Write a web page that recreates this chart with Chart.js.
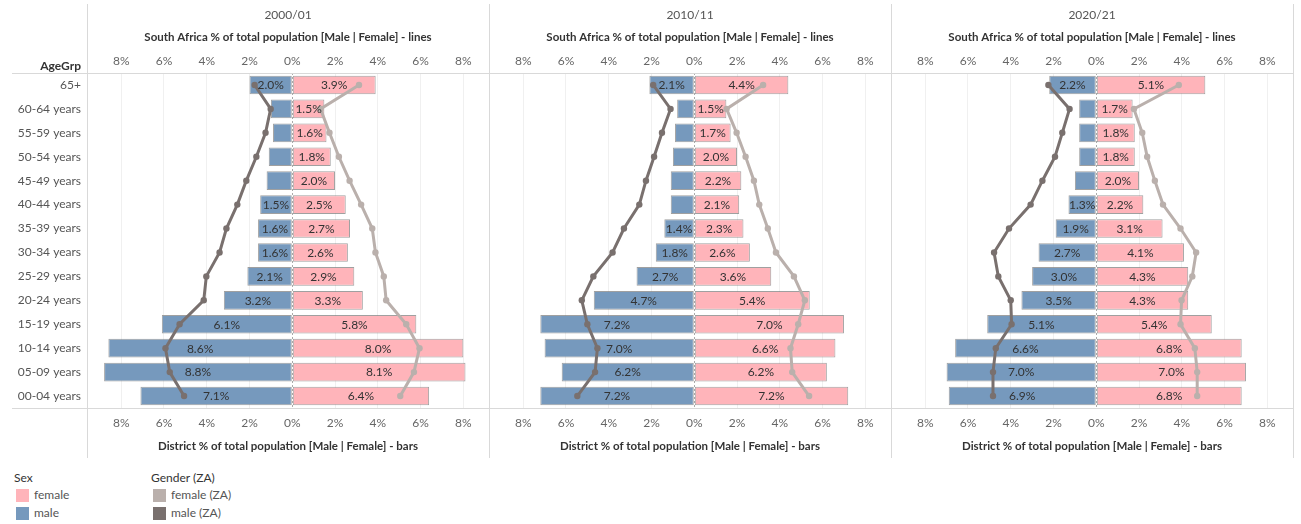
<!DOCTYPE html>
<html>
<head>
<meta charset="utf-8">
<script src="https://cdn.jsdelivr.net/npm/chart.js@4.4.1/dist/chart.umd.min.js"></script>
<style>
  body { margin: 0; background: #fff; font-family: Lato, "Open Sans", sans-serif; }
  #wrap { position: relative; width: 1301px; height: 524px; overflow: hidden; }
  canvas { position: absolute; top: 0; }
  .vline { position: absolute; top: 4px; height: 454px; width: 1px; background: #d9d9d9; }
  .hline { position: absolute; left: 12px; width: 1282px; height: 1px; background: #d9d9d9; }
  #ageHead { position: absolute; left: 30px; width: 51px; top: 58px; text-align: right;
             font: bold 12px Lato, sans-serif; color: #333; }
  .legend { position: absolute; top: 469px; font-size: 12px; color: #555; }
  .legend .ttl { color: #333; height: 17px; line-height: 17px; }
  .legend .item { height: 18px; line-height: 18px; display: flex; align-items: center; }
  .legend .sw { width: 13px; height: 13px; margin: 0 5px 0 2px; }
</style>
</head>
<body>
<div id="wrap">
  <canvas id="p0" width="489" height="460" style="left:0px"></canvas>
  <canvas id="p1" width="402" height="460" style="left:489px"></canvas>
  <canvas id="p2" width="402" height="460" style="left:891px"></canvas>
  <div class="vline" style="left:87px"></div>
  <div class="vline" style="left:489px"></div>
  <div class="vline" style="left:891px"></div>
  <div class="vline" style="left:1293px"></div>
  <div class="hline" style="top:73px"></div>
  <div class="hline" style="top:408px"></div>
  <div id="ageHead">AgeGrp</div>
  <div class="legend" id="legSex" style="left:14px"></div>
  <div class="legend" id="legZA" style="left:151px"></div>
</div>
<script>
const ageGroups = ['65+', '60-64 years', '55-59 years', '50-54 years', '45-49 years', '40-44 years',
  '35-39 years', '30-34 years', '25-29 years', '20-24 years', '15-19 years', '10-14 years',
  '05-09 years', '00-04 years'];
const periods = ['2000/01', '2010/11', '2020/21'];

// district share of total population (bars)
const districtMale2000   = [2.0, 1.0, 0.9, 1.1, 1.2, 1.5, 1.6, 1.6, 2.1, 3.2, 6.1, 8.6, 8.8, 7.1];
const districtFemale2000 = [3.9, 1.5, 1.6, 1.8, 2.0, 2.5, 2.7, 2.6, 2.9, 3.3, 5.8, 8.0, 8.1, 6.4];
const districtMale2010   = [2.1, 0.8, 0.9, 1.0, 1.1, 1.1, 1.4, 1.8, 2.7, 4.7, 7.2, 7.0, 6.2, 7.2];
const districtFemale2010 = [4.4, 1.5, 1.7, 2.0, 2.2, 2.1, 2.3, 2.6, 3.6, 5.4, 7.0, 6.6, 6.2, 7.2];
const districtMale2020   = [2.2, 0.8, 0.8, 0.8, 1.0, 1.3, 1.9, 2.7, 3.0, 3.5, 5.1, 6.6, 7.0, 6.9];
const districtFemale2020 = [5.1, 1.7, 1.8, 1.8, 2.0, 2.2, 3.1, 4.1, 4.3, 4.3, 5.4, 6.8, 7.0, 6.8];

// South Africa share of total population (lines)
const saMale2000   = [1.76, 1.01, 1.25, 1.68, 2.15, 2.57, 3.08, 3.40, 4.02, 4.14, 5.27, 5.93, 5.73, 5.06];
const saFemale2000 = [3.12, 1.32, 1.74, 2.18, 2.68, 3.22, 3.74, 3.89, 4.28, 4.39, 5.33, 5.95, 5.69, 5.05];
const saMale2010   = [1.92, 1.11, 1.51, 1.88, 2.26, 2.57, 3.29, 3.82, 4.72, 5.26, 5.00, 4.53, 4.64, 5.47];
const saFemale2010 = [3.22, 1.51, 1.98, 2.40, 2.79, 3.04, 3.44, 3.82, 4.66, 5.17, 4.86, 4.50, 4.58, 5.37];
const saMale2020   = [2.24, 1.25, 1.59, 1.93, 2.52, 3.07, 4.08, 4.78, 4.58, 4.00, 3.96, 4.70, 4.83, 4.83];
const saFemale2020 = [3.86, 1.76, 2.15, 2.38, 2.74, 3.12, 3.94, 4.67, 4.49, 3.99, 3.94, 4.61, 4.72, 4.72];

const tickValues = [-8, -6, -4, -2, 0, 2, 4, 6, 8];

const districtMale = [districtMale2000, districtMale2010, districtMale2020];
const districtFemale = [districtFemale2000, districtFemale2010, districtFemale2020];
const saMale = [saMale2000, saMale2010, saMale2020];
const saFemale = [saFemale2000, saFemale2010, saFemale2020];

const colors = {
  male: '#7699bd',
  female: '#ffb4ba',
  maleZA: '#79706e',
  femaleZA: '#bab0ac',
  barBorder: 'rgba(120,120,120,0.7)'
};
const FONT = 'Lato, "Open Sans", sans-serif';

// dotted line at 0%
const zeroLine = {
  id: 'zeroLine',
  beforeDatasetsDraw(chart) {
    const { ctx, chartArea } = chart;
    const x = Math.round(chart.scales.x.getPixelForValue(0)) + 0.5;
    ctx.save();
    ctx.strokeStyle = '#aaa';
    ctx.lineWidth = 1;
    ctx.setLineDash([2, 2]);
    ctx.beginPath();
    ctx.moveTo(x, chartArea.top);
    ctx.lineTo(x, chartArea.bottom);
    ctx.stroke();
    ctx.restore();
  }
};

// value labels in the middle of the bars (skip the narrow ones)
const barLabels = {
  id: 'barLabels',
  afterDatasetsDraw(chart) {
    const ctx = chart.ctx;
    chart.data.datasets.forEach((ds, i) => {
      if (ds.type === 'line') return;
      chart.getDatasetMeta(i).data.forEach((bar, j) => {
        const v = Math.abs(ds.data[j]);
        if (v < 1.25) return;
        ctx.save();
        ctx.font = '12px ' + FONT;
        ctx.fillStyle = '#333';
        ctx.textAlign = 'center';
        ctx.textBaseline = 'middle';
        ctx.fillText(v.toFixed(1) + '%', (bar.x + bar.base) / 2, bar.y + 0.5);
        ctx.restore();
      });
    });
  }
};

function fixedTicks(scale) {
  scale.ticks = tickValues.map(v => ({ value: v }));
}

function makePanel(idx) {
  const first = idx === 0;
  new Chart(document.getElementById('p' + idx), {
    type: 'bar',
    data: {
      labels: ageGroups,
      datasets: [
        {
          type: 'line', label: 'male (ZA)', xAxisID: 'x2', order: 0,
          data: saMale[idx].map(v => -v),
          borderColor: colors.maleZA, backgroundColor: colors.maleZA,
          borderWidth: 3, pointRadius: 3.2, pointBorderWidth: 0
        },
        {
          type: 'line', label: 'female (ZA)', xAxisID: 'x2', order: 0,
          data: saFemale[idx],
          borderColor: colors.femaleZA, backgroundColor: colors.femaleZA,
          borderWidth: 3, pointRadius: 3.2, pointBorderWidth: 0
        },
        {
          label: 'male', order: 1, grouped: false,
          data: districtMale[idx].map(v => -v),
          backgroundColor: colors.male, borderColor: colors.barBorder,
          borderWidth: 1, borderSkipped: false,
          barPercentage: 0.78, categoryPercentage: 1
        },
        {
          label: 'female', order: 1, grouped: false,
          data: districtFemale[idx],
          backgroundColor: colors.female, borderColor: colors.barBorder,
          borderWidth: 1, borderSkipped: false,
          barPercentage: 0.78, categoryPercentage: 1
        }
      ]
    },
    options: {
      indexAxis: 'y',
      responsive: false,
      animation: false,
      layout: { padding: 0, autoPadding: false },
      plugins: {
        legend: { display: false },
        tooltip: { enabled: false },
        title: {
          display: true, text: periods[idx], fullSize: false, color: '#555',
          font: { family: FONT, size: 12, weight: 'normal', lineHeight: 1.2 },
          padding: { top: 8, bottom: 4 }
        }
      },
      scales: {
        x: {
          position: 'bottom', min: -9.6, max: 9.2,
          afterBuildTicks: fixedTicks,
          afterFit: s => { s.height = 52; },
          ticks: { callback: v => Math.abs(v) + '%', color: '#666', padding: 8,
                   font: { family: FONT, size: 12 } },
          grid: { drawTicks: false, color: c => (c.tick && c.tick.value === 0) ? 'rgba(0,0,0,0)' : '#f0f0f0' },
          border: { display: false },
          title: { display: true, text: 'District % of total population [Male | Female] - bars',
                   color: '#333', padding: { top: 0, bottom: 7 },
                   font: { family: FONT, size: 11.5, weight: 'bold' } }
        },
        x2: {
          position: 'top', min: -9.6, max: 9.2,
          afterBuildTicks: fixedTicks,
          afterFit: s => { s.height = 46.6; },
          ticks: { callback: v => Math.abs(v) + '%', color: '#666', padding: 5,
                   font: { family: FONT, size: 12 } },
          grid: { display: false, drawTicks: false },
          border: { display: false },
          title: { display: true, text: 'South Africa % of total population [Male | Female] - lines',
                   color: '#333', padding: { top: 4, bottom: 0 },
                   font: { family: FONT, size: 11.5, weight: 'bold' } }
        },
        y: {
          display: first,
          afterFit: s => { s.width = first ? 87 : 0; },
          ticks: { color: '#555', padding: 6, font: { family: FONT, size: 12 } },
          grid: { display: false, drawTicks: false },
          border: { display: false }
        }
      }
    },
    plugins: [zeroLine, barLabels]
  });
}

[0, 1, 2].forEach(makePanel);

// legends
const sexItems = [['female', colors.female], ['male', colors.male]];
const zaItems = [['female (ZA)', colors.femaleZA], ['male (ZA)', colors.maleZA]];
function buildLegend(el, title, items) {
  let html = '<div class="ttl">' + title + '</div>';
  items.forEach(([name, col]) => {
    html += '<div class="item"><span class="sw" style="background:' + col + '"></span>' + name + '</div>';
  });
  document.getElementById(el).innerHTML = html;
}
buildLegend('legSex', 'Sex', sexItems);
buildLegend('legZA', 'Gender (ZA)', zaItems);
</script>
</body>
</html>
